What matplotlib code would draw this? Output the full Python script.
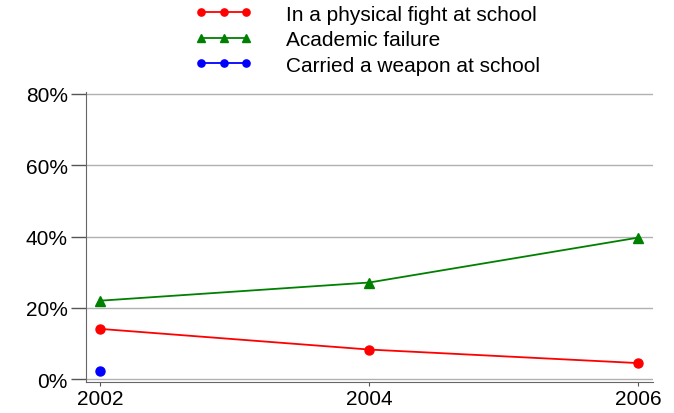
import matplotlib.pyplot as plt
from matplotlib.ticker import FuncFormatter

plt.rcParams['font.family'] = ['Liberation Sans', 'DejaVu Sans']

years = [2002, 2004, 2006]
fight = [14.1, 8.3, 4.5]
failure = [22.0, 27.1, 39.7]
weapon_years = [2002]
weapon = [2.2]

fig = plt.figure(figsize=(6.74, 4.14), dpi=100)
ax = fig.add_axes([0.1276, 0.0749, 0.969 - 0.1276, 0.775 - 0.0749])

ax.plot(years, fight, color='#ff0000', marker='o', markersize=6.5, lw=1.3,
        label='In a physical fight at school')
ax.plot(years, failure, color='#008000', marker='^', markersize=7, lw=1.3,
        label='Academic failure')
ax.plot(weapon_years, weapon, color='#0000ff', marker='o', markersize=6.5, lw=1.3,
        label='Carried a weapon at school')

ax.set_xlim(2001.896, 2006.11)
ax.set_ylim(-0.8, 80.5)
ax.set_xticks(years)
ax.set_yticks([0, 20, 40, 60, 80])
ax.yaxis.set_major_formatter(FuncFormatter(lambda v, p: f'{v:.0f}%'))
ax.grid(axis='y', color='#b0b0b0', lw=1)
ax.set_axisbelow(True)
for s in ['top', 'right']:
    ax.spines[s].set_visible(False)
for s in ['left', 'bottom']:
    ax.spines[s].set_color('#666666')
ax.tick_params(axis='y', length=11, width=1, color='#555555', labelsize=15, pad=2)
ax.tick_params(axis='x', length=3, width=0.8, color='#555555', labelsize=15, pad=2)

leg = fig.legend(loc='center', bbox_to_anchor=(0.545, 0.902), frameon=False,
                 numpoints=3, handlelength=2.75, handletextpad=1.6,
                 labelspacing=0.31, fontsize=15, markerscale=0.8)

fig.savefig('out.png', dpi=100)
